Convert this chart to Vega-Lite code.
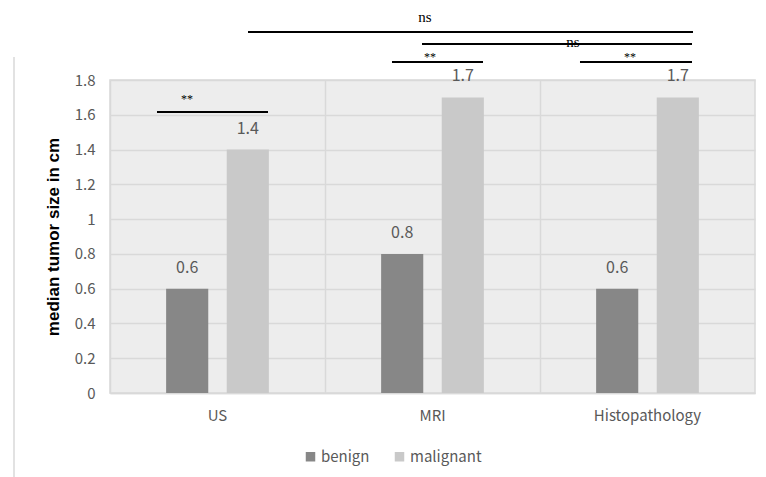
{
  "$schema": "https://vega.github.io/schema/vega-lite/v6.json",
  "width": 645,
  "height": 313,
  "autosize": "none",
  "padding": {"left": 110, "top": 80, "right": 11, "bottom": 84},
  "background": "white",
  "config": {
    "view": {"fill": "#ededed", "stroke": "#d9d9d9", "strokeWidth": 1.5},
    "font": "Noto Sans CJK SC",
    "axisY": {
      "tickCount": 10, "labelOverlap": false, "format": ".1~f",
      "titleFontSize": 17, "titleFontWeight": "bold", "titleColor": "#000000",
      "titleFont": "Liberation Sans", "titlePadding": 12,
      "labelFontSize": 15, "labelColor": "#595959", "labelPadding": 15,
      "ticks": false, "domain": false, "grid": true, "gridColor": "#d9d9d9", "gridWidth": 1.5
    }
  },
  "datasets": {
    "bars": [
      {"method": "US", "group": "benign", "value": 0.6},
      {"method": "US", "group": "malignant", "value": 1.4},
      {"method": "MRI", "group": "benign", "value": 0.8},
      {"method": "MRI", "group": "malignant", "value": 1.7},
      {"method": "Histopathology", "group": "benign", "value": 0.6},
      {"method": "Histopathology", "group": "malignant", "value": 1.7}
    ],
    "brackets": [
      {"start": 0.2186, "end": 0.7349, "level": 1.616, "label": "**", "labelPos": 0.358, "labelLevel": 1.69, "kind": "star"},
      {"start": 1.3116, "end": 1.7349, "level": 1.903, "label": "**", "labelPos": 1.488, "labelLevel": 1.93, "kind": "star"},
      {"start": 2.186, "end": 2.707, "level": 1.903, "label": "**", "labelPos": 2.419, "labelLevel": 1.93, "kind": "star"},
      {"start": 1.4512, "end": 2.707, "level": 2.007, "label": "ns", "labelPos": 2.153, "labelLevel": 2.018, "kind": "ns"},
      {"start": 0.6419, "end": 2.7116, "level": 2.076, "label": "ns", "labelPos": 1.465, "labelLevel": 2.162, "kind": "ns"}
    ],
    "frame": [
      {"xpos": -0.4465, "ylow": -0.49, "yhigh": 1.932}
    ]
  },
  "layer": [
    {
      "data": {"name": "bars"},
      "layer": [
        {
          "mark": {"type": "bar"},
          "encoding": {
            "x": {
              "field": "method", "type": "nominal", "sort": null,
              "scale": {"paddingInner": 0, "paddingOuter": 0},
              "axis": {
                "title": null, "labelAngle": 0, "labelFontSize": 15, "labelColor": "#595959",
                "labelPadding": 15, "ticks": false, "domainColor": "#d9d9d9", "domainWidth": 1.5,
                "grid": true, "gridColor": "#d9d9d9", "gridWidth": 1.5, "bandPosition": 0
              }
            },
            "xOffset": {
              "field": "group", "type": "nominal",
              "scale": {"paddingInner": 0.305, "paddingOuter": 0.926}
            },
            "y": {
              "field": "value", "type": "quantitative",
              "scale": {"domain": [0, 1.8], "nice": false},
              "axis": {"title": "median tumor size in cm"}
            },
            "color": {
              "field": "group", "type": "nominal",
              "scale": {"domain": ["benign", "malignant"], "range": ["#878787", "#c9c9c9"]},
              "legend": {
                "title": null, "orient": "none", "legendX": 193, "legendY": 369,
                "direction": "horizontal", "symbolType": "square", "symbolSize": 90,
                "symbolStrokeWidth": 0, "labelFontSize": 15, "labelColor": "#595959",
                "labelOffset": 3, "columnPadding": 22
              }
            }
          }
        },
        {
          "mark": {"type": "text", "baseline": "middle", "dy": -21, "fontSize": 16, "fill": "#595959"},
          "encoding": {
            "x": {"field": "method", "type": "nominal", "sort": null},
            "xOffset": {"field": "group", "type": "nominal"},
            "y": {"field": "value", "type": "quantitative"},
            "text": {"field": "value", "type": "quantitative", "format": ".1f"}
          }
        }
      ]
    },
    {
      "data": {"name": "brackets"},
      "layer": [
        {
          "mark": {"type": "rule", "color": "#000000", "strokeWidth": 2},
          "encoding": {
            "x": {"field": "start", "type": "quantitative", "scale": {"domain": [0, 3], "nice": false, "zero": false}, "axis": null},
            "x2": {"field": "end"},
            "y": {"field": "level", "type": "quantitative"}
          }
        },
        {
          "mark": {"type": "text", "baseline": "middle", "font": "Liberation Serif", "fill": "#000000"},
          "encoding": {
            "x": {"field": "labelPos", "type": "quantitative", "scale": {"domain": [0, 3], "nice": false, "zero": false}, "axis": null},
            "y": {"field": "labelLevel", "type": "quantitative"},
            "text": {"field": "label", "type": "nominal"},
            "size": {
              "field": "kind", "type": "nominal",
              "scale": {"domain": ["star", "ns"], "range": [12, 15]},
              "legend": null
            }
          }
        }
      ]
    },
    {
      "data": {"name": "frame"},
      "mark": {"type": "rule", "color": "#d9d9d9", "strokeWidth": 1.5},
      "encoding": {
        "x": {"field": "xpos", "type": "quantitative", "scale": {"domain": [0, 3], "nice": false, "zero": false}, "axis": null},
        "y": {"field": "ylow", "type": "quantitative"},
        "y2": {"field": "yhigh"}
      }
    }
  ],
  "resolve": {"scale": {"x": "independent"}}
}
